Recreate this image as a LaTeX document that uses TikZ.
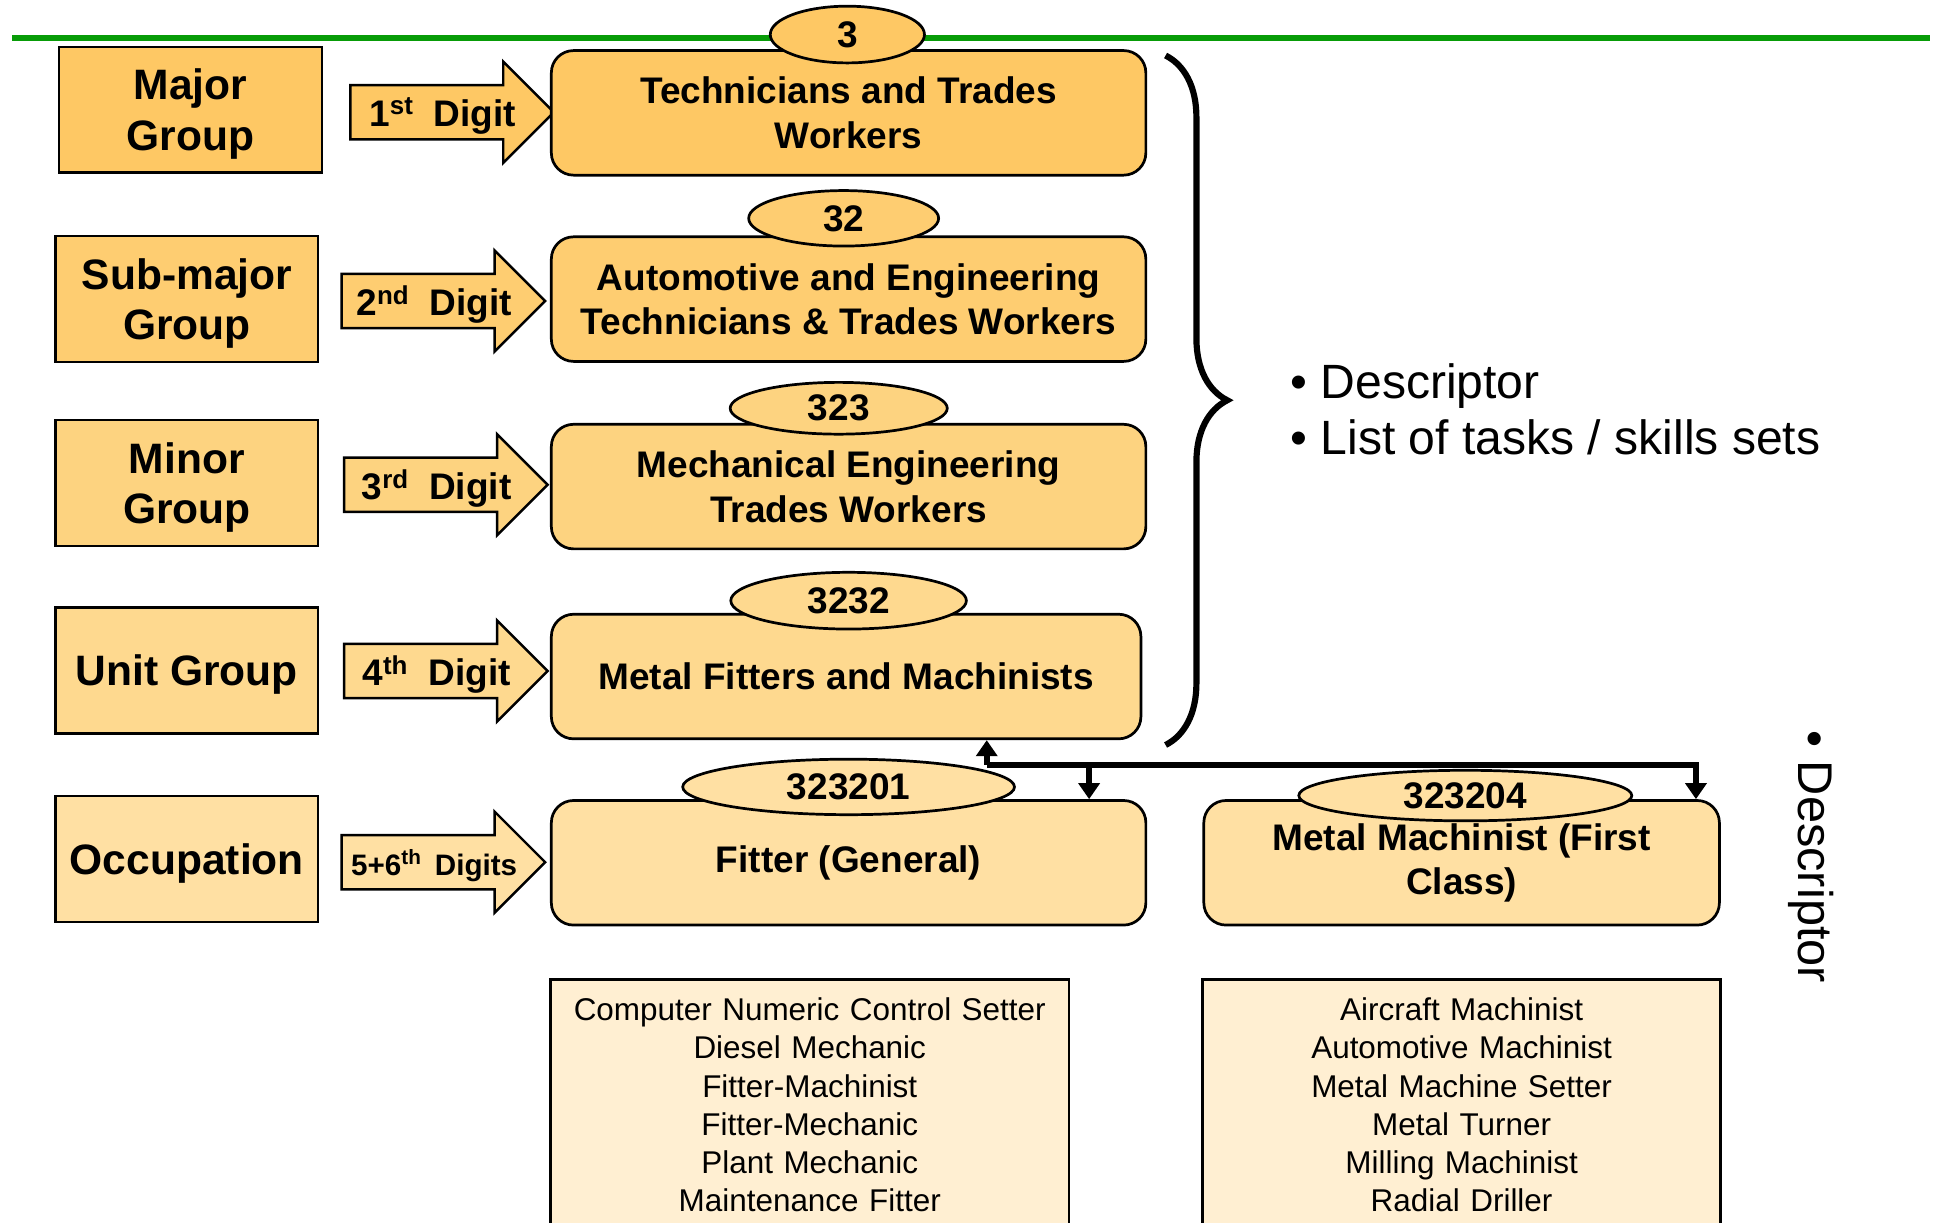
\documentclass[tikz,border=0pt]{standalone}
\usepackage{fontspec}
\setmainfont{Liberation Sans}
\usetikzlibrary{shapes.geometric,arrows.meta,decorations.pathreplacing}
\definecolor{RowA}{HTML}{FEC864}
\definecolor{RowB}{HTML}{FECD71}
\definecolor{RowC}{HTML}{FDD380}
\definecolor{RowD}{HTML}{FED98F}
\definecolor{RowE}{HTML}{FFE0A3}
\definecolor{ListFill}{HTML}{FFEFD2}
\definecolor{RuleGreen}{HTML}{089C08}

\begin{document}
\begin{tikzpicture}[x=1pt,y=-1pt]
			\useasboundingbox (0,0) rectangle (1568,991);
			\tikzset{
			  GroupStyle/.style = { draw, line width=2pt, minimum width=213pt,
			                        minimum height=102pt, align=center, text depth=0pt,
			                        font = \bfseries\fontsize{34.5}{41}\selectfont },
			  LevelStyle/.style = { draw, line width=2.2pt, rounded corners=18pt,
			                        minimum height=101pt, align=center,
			                        font = \bfseries\fontsize{30}{36}\selectfont },
			  CodeStyle/.style = { draw, ellipse, line width=2.2pt, inner sep=0pt,
			                       font = \bfseries\fontsize{30}{32}\selectfont },
			  DigitStyle/.style = { draw, line width=2pt, line join=miter },
			  DigitText/.style = { inner sep=0pt, font = \bfseries\fontsize{30}{32}\selectfont },
			  ListStyle/.style = { draw, line width=2pt, fill=ListFill, anchor=north,
			                       text width=396pt, align=center, inner xsep=12pt,
			                       inner ysep=15pt, font = \fontsize{25.5}{31}\selectfont },
			  LinkStyle/.style = { line width=5pt, line join=miter,
			                       -{Triangle[width=17pt,length=13pt]} } }
			% rule at the top
			\coordinate (ruleL) at (10,31);
			\coordinate (ruleR) at (1565,31);
			\draw[line width=5pt, RuleGreen] (ruleL) -- (ruleR);
			% levels on the left
			\node[GroupStyle, fill=RowA] (major) at (154.5,89) {Major\\Group};
			\node[GroupStyle, fill=RowB] (submajor) at (151.5,242.5) {Sub-major\\Group};
			\node[GroupStyle, fill=RowC] (minor) at (151.5,391.5) {Minor\\Group};
			\node[GroupStyle, fill=RowD] (unit) at (151.5,543.5) {Unit Group};
			\node[GroupStyle, fill=RowE] (occup) at (151.5,696.5) {Occupation};
			% digit arrows
			\foreach \nm/\lx/\ly/\col/\txt in {
			    d1/284/91/RowA/{1\textsuperscript{st}\hspace{0.55em}Digit},
			    d2/277/244/RowB/{2\textsuperscript{nd}\hspace{0.55em}Digit},
			    d3/279/393/RowC/{3\textsuperscript{rd}\hspace{0.55em}Digit},
			    d4/279/544/RowD/{4\textsuperscript{th}\hspace{0.55em}Digit},
			    d5/277/699/RowE/{\fontsize{24}{26}\selectfont 5+6\textsuperscript{th}\hspace{0.45em}Digits}}
			{
			\draw[DigitStyle, fill=\col] (\lx,\ly-22) -- (\lx+124,\ly-22) -- (\lx+124,\ly-41)
			      -- (\lx+165,\ly) -- (\lx+124,\ly+41) -- (\lx+124,\ly+22) -- (\lx,\ly+22) -- cycle;
			\node[DigitText] (\nm) at (\lx+75,\ly+3) {\txt};
			}
			% codes and titles
			\node[LevelStyle, fill=RowA, minimum width=482pt] (tech) at (688,91.5) {Technicians and Trades\\Workers};
			\node[LevelStyle, fill=RowB, minimum width=482pt] (auto) at (688,242.5) {Automotive and Engineering\\Technicians \& Trades Workers};
			\node[LevelStyle, fill=RowC, minimum width=482pt] (mech) at (688,394.5) {Mechanical Engineering\\Trades Workers};
			\node[LevelStyle, fill=RowD, minimum width=478pt] (fit) at (686,548.5) {Metal Fitters and Machinists};
			\node[LevelStyle, fill=RowE, minimum width=482pt] (gen) at (688,699.5) {Fitter (General)};
			\node[LevelStyle, fill=RowE, minimum width=418pt] (mach) at (1185,699.5) {Metal Machinist (First\\Class)};
			\node[CodeStyle, fill=RowA, minimum width=125pt, minimum height=46pt] (c1) at (687,28) {3};
			\node[CodeStyle, fill=RowB, minimum width=154pt, minimum height=45pt] (c2) at (684,177) {32};
			\node[CodeStyle, fill=RowC, minimum width=176pt, minimum height=42pt] (c3) at (680,331) {323};
			\node[CodeStyle, fill=RowD, minimum width=191pt, minimum height=46pt] (c4) at (688,487) {3232};
			\node[CodeStyle, fill=RowE, minimum width=269pt, minimum height=45pt] (c5) at (688,638) {323201};
			\node[CodeStyle, fill=RowE, minimum width=270pt, minimum height=41pt] (c6) at (1188,645) {323204};
			% brace and descriptor
			\coordinate (braceT) at (945,45);
			\coordinate (braceB) at (945,604);
			\draw[line width=5pt, decorate, decoration={brace, amplitude=50pt}] (braceT) -- (braceB);
			\node[anchor=west, align=left, inner sep=0pt, font=\fontsize{39}{45}\selectfont] (desc) at (1046,332)
			      {\textbullet\ Descriptor\\\textbullet\ List of tasks / skills sets};
			\node[rotate=-90, anchor=west, inner sep=0pt, font=\fontsize{39.5}{45}\selectfont] (side) at (1468,592)
			      {\textbullet\ Descriptor};
			% links between unit group and occupations
			\coordinate (hub) at (800,620);
			\coordinate (hubF) at (883,620);
			\coordinate (hubE) at (1375,620);
			\draw[LinkStyle] (hub) -- (hubE) -- (hubE |- mach.north);
			\draw[LinkStyle] (hub) -- (hub |- fit.south);
			\draw[LinkStyle] (hubF) -- (hubF |- gen.north);
			% alternative titles
			\node[ListStyle] (listgen) at (656.5,793) {Computer Numeric Control Setter\\Diesel Mechanic\\Fitter-Machinist\\Fitter-Mechanic\\Plant Mechanic\\Maintenance Fitter};
			\node[ListStyle] (listmach) at (1185,793) {Aircraft Machinist\\Automotive Machinist\\Metal Machine Setter\\Metal Turner\\Milling Machinist\\Radial Driller};
		\end{tikzpicture}
\end{document}
